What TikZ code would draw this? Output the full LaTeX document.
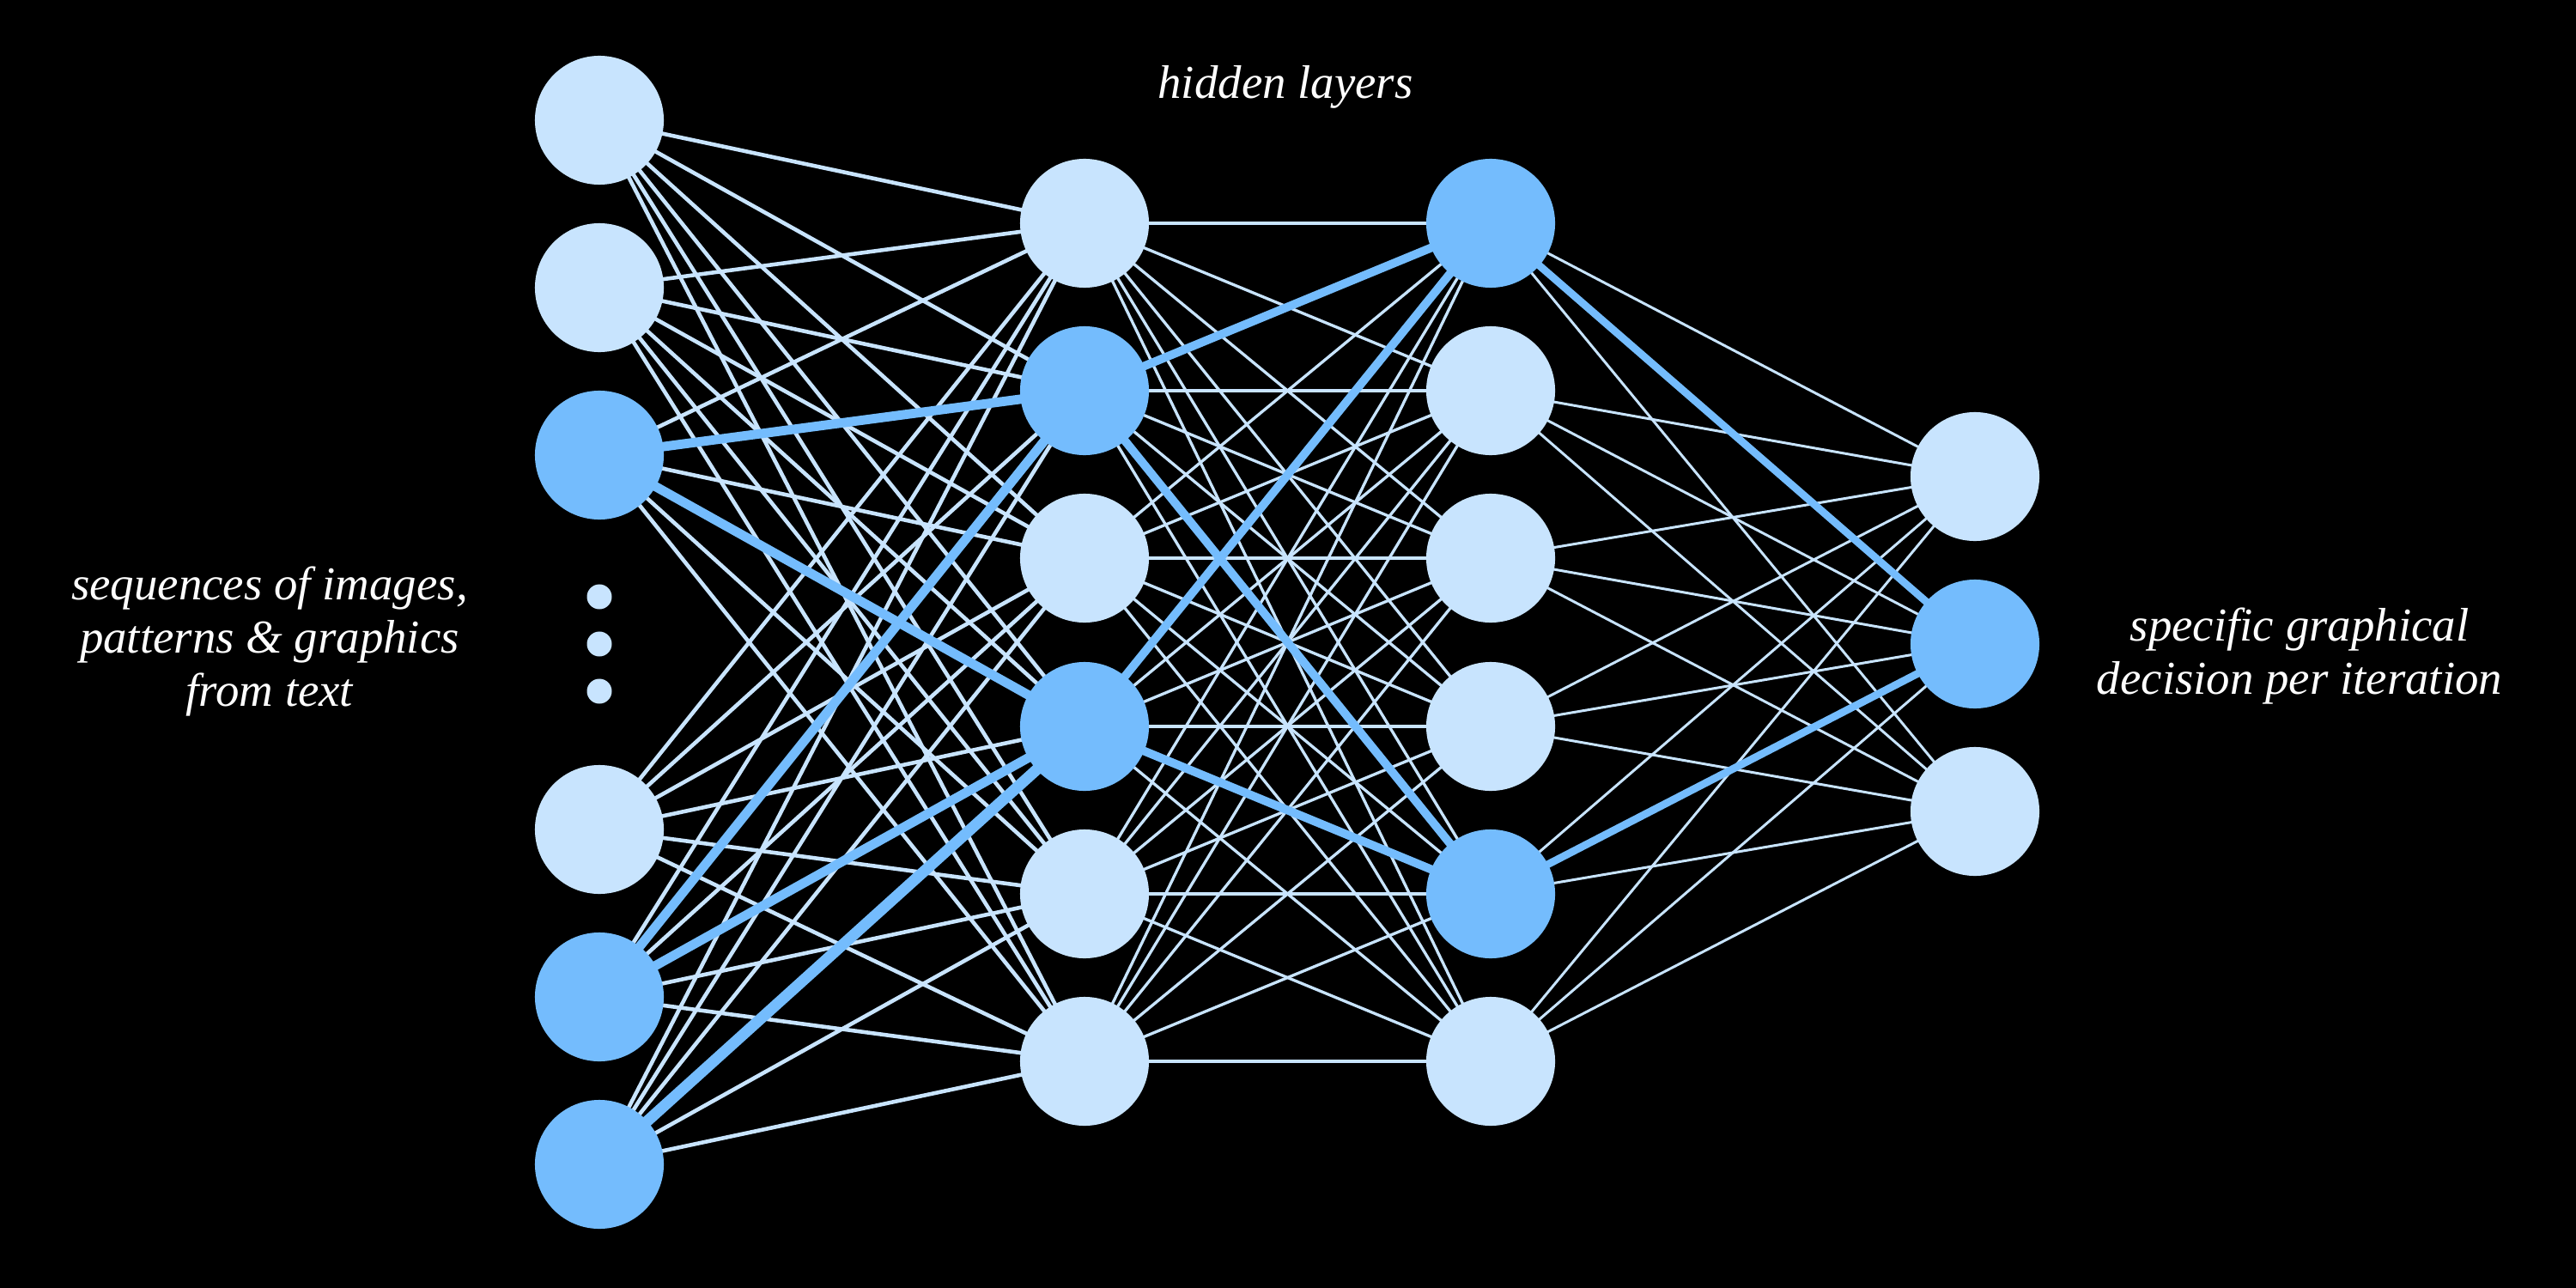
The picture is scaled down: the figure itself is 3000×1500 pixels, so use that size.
\documentclass[tikz,border=0pt]{standalone}
\usepackage{fontspec}
\setmainfont{Liberation Serif}
\definecolor{nlight}{RGB}{200,228,254}
\definecolor{ndark}{RGB}{116,188,253}
\pgfdeclarelayer{bg}
\pgfdeclarelayer{edges}
\pgfsetlayers{bg,edges,main}
\tikzset{
  neuron/.style={circle,fill=nlight,draw=none,minimum size=1.5cm,inner sep=0pt},
  active/.style={neuron,fill=ndark},
  dotmark/.style={circle,fill=nlight,draw=none,minimum size=0.29cm,inner sep=0pt},
  thinA/.style={draw=nlight,line width=1.3pt},
  thinB/.style={draw=nlight,line width=0.95pt},
  thinC/.style={draw=nlight,line width=0.85pt},
  thickA/.style={draw=ndark,line width=3.1pt},
  thickB/.style={draw=ndark,line width=2.8pt},
  thickC/.style={draw=ndark,line width=2.5pt},
  label/.style={text=white,font=\fontsize{15.6}{17.6}\selectfont\itshape,align=center,inner sep=0pt}
}
\begin{document}
\begin{tikzpicture}[x=0.01cm,y=-0.01cm]
\begin{pgfonlayer}{bg}
\fill[black] (0,0) rectangle (3000,1500);
\end{pgfonlayer}
\useasboundingbox (0,0) rectangle (3000,1500);
% input layer
\node[neuron] (i1) at (698,140) {};
\node[neuron] (i2) at (698,335) {};
\node[active] (i3) at (698,530) {};
\node[neuron] (i4) at (698,966) {};
\node[active] (i5) at (698,1161) {};
\node[active] (i6) at (698,1356) {};
\node[dotmark] (d1) at (698,695) {};
\node[dotmark] (d2) at (698,750) {};
\node[dotmark] (d3) at (698,805) {};
% hidden layer 1
\node[neuron] (h1) at (1263,260) {};
\node[active] (h2) at (1263,455) {};
\node[neuron] (h3) at (1263,650) {};
\node[active] (h4) at (1263,846) {};
\node[neuron] (h5) at (1263,1041) {};
\node[neuron] (h6) at (1263,1236) {};
% hidden layer 2
\node[active] (g1) at (1736,260) {};
\node[neuron] (g2) at (1736,455) {};
\node[neuron] (g3) at (1736,650) {};
\node[neuron] (g4) at (1736,846) {};
\node[active] (g5) at (1736,1041) {};
\node[neuron] (g6) at (1736,1236) {};
% output layer
\node[neuron] (o1) at (2300,555) {};
\node[active] (o2) at (2300,750) {};
\node[neuron] (o3) at (2300,945) {};
% edges
\begin{pgfonlayer}{edges}
\foreach \a in {1,...,6}{\foreach \b in {1,...,6}{\draw[thinA] (i\a.center) -- (h\b.center);}}
\foreach \a in {1,...,6}{\foreach \b in {1,...,6}{\draw[thinB] (h\a.center) -- (g\b.center);}}
\foreach \a in {1,...,6}{\foreach \b in {1,2,3}{\draw[thinC] (g\a.center) -- (o\b.center);}}
\draw[thickA] (i3.center) -- (h2.center);
\draw[thickA] (i3.center) -- (h4.center);
\draw[thickA] (i5.center) -- (h2.center);
\draw[thickA] (i5.center) -- (h4.center);
\draw[thickA,line width=3.7pt] (i6.center) -- (h4.center);
\draw[thickB] (h2.center) -- (g1.center);
\draw[thickB] (h2.center) -- (g5.center);
\draw[thickB] (h4.center) -- (g1.center);
\draw[thickB] (h4.center) -- (g5.center);
\draw[thickC] (g1.center) -- (o2.center);
\draw[thickC] (g5.center) -- (o2.center);
\end{pgfonlayer}
% labels
\node[label,anchor=base] (tHidden) at (1497,115) {hidden layers};
\node[label,anchor=base] (tIn) at (314,822) {sequences of images,\\patterns \& graphics\\from text};
\node[label,anchor=base] (tOut) at (2678,808) {specific graphical\\decision per iteration};
\end{tikzpicture}
\end{document}
